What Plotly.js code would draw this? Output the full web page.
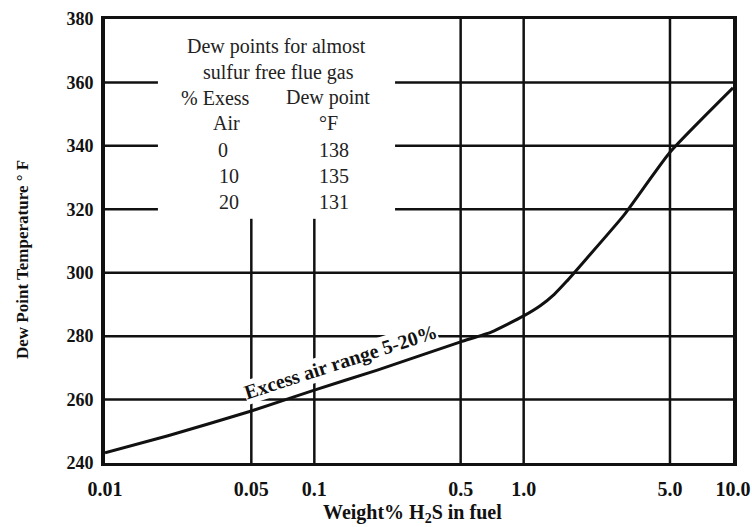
<!DOCTYPE html>
<html>
<head>
<meta charset="utf-8">
<script src="https://cdn.plot.ly/plotly-3.0.1.min.js"></script>
<style>html,body{margin:0;padding:0;background:#fff;}#chart{width:752px;height:527px;}</style>
</head>
<body>
<div id="chart"></div>
<script>
// Curve data: Weight% H2S in fuel vs dew point temperature (°F)
const h2sPct = [0.01, 0.02, 0.05, 0.1, 0.2, 0.5, 0.7, 1.0, 1.2, 1.4, 1.6, 2, 3, 5, 10];
const dewPointF = [243.2, 248.6, 256.4, 263, 269.3, 278.2, 281.3, 286.4, 289.6, 293.2, 297.2, 304.5, 318, 338, 358.3];

// Axis ticks
const xTickVals = [0.01, 0.05, 0.1, 0.5, 1, 5, 10];
const xTickText = ['0.01', '0.05', '0.1', '0.5', '1.0', '5.0', '10.0'];
const yTickVals = [240, 260, 280, 300, 320, 340, 360, 380];

// Grid lines
const yGridFull = [260, 280, 300];
const yGridSplit = [320, 340, 360];
const xGridFull = [0.5, 1, 5];
const xGridShort = [0.05, 0.1];

// Inset table
const insetTitle = ['Dew points for almost', 'sulfur free flue gas'];
const insetHeads = [['% Exess', 'Air'], ['Dew point', '°F']];
const excessAir = ['0', '10', '20'];
const insetDew = ['138', '135', '131'];

const L = 105, R = 733, T = 19, B = 463, W = 752, H = 527;
const px = v => (v - L) / (R - L);   // pixel x -> paper
const py = v => (B - v) / (B - T);   // pixel y -> paper

const serif = 'Liberation Serif, Times New Roman, serif';
const ink = '#111';

const shapes = [];
const gw = 2.5;
yGridFull.forEach(y => shapes.push({type:'line', xref:'x', yref:'y', x0:0.01, x1:10, y0:y, y1:y, line:{color:ink, width:gw}}));
yGridSplit.forEach(y => {
  shapes.push({type:'line', xref:'x', yref:'y', x0:0.01, x1:0.0179, y0:y, y1:y, line:{color:ink, width:gw}});
  shapes.push({type:'line', xref:'x', yref:'y', x0:0.243, x1:10, y0:y, y1:y, line:{color:ink, width:gw}});
});
xGridFull.forEach(x => shapes.push({type:'line', xref:'x', yref:'y', x0:x, x1:x, y0:240, y1:380, line:{color:ink, width:gw}}));
xGridShort.forEach(x => shapes.push({type:'line', xref:'x', yref:'y', x0:x, x1:x, y0:240, y1:317, line:{color:ink, width:gw}}));
shapes.forEach(s => s.layer = 'below');

const annotations = [];
const tfont = {family: serif, size: 20, color: '#222', weight: 'normal'};
const add = (x, y, text) => annotations.push({xref:'paper', yref:'paper', x:px(x), y:py(y), text:text, showarrow:false, font:tfont, xanchor:'center', yanchor:'middle'});
add(276, 46, insetTitle[0]);
add(278, 72, insetTitle[1]);
add(215, 98, insetHeads[0][0]);
add(226, 123, insetHeads[0][1]);
add(328, 98, insetHeads[1][0]);
add(328, 123, insetHeads[1][1]);
const rowY = [150, 176, 202];
excessAir.forEach((t, i) => {
  add(i === 0 ? 223 : 229, rowY[i], t);
  add(334, rowY[i], insetDew[i]);
});
// curve label
annotations.push({xref:'paper', yref:'paper', x:px(340), y:py(362), text:'<b>Excess air range 5-20%</b>', showarrow:false,
  textangle:-18, font:{family: serif, size: 20, color: ink}, bgcolor:'#fff', borderpad:0, xanchor:'center', yanchor:'middle'});
// y axis title
annotations.push({xref:'paper', yref:'paper', x:px(22), y:py(260), text:'<b>Dew Point Temperature ° F</b>', showarrow:false,
  textangle:-90, font:{family: serif, size: 17, color: ink}, xanchor:'center', yanchor:'middle'});
// x axis title
annotations.push({xref:'paper', yref:'paper', x:px(412), y:py(513), text:'<b>Weight% H<sub>2</sub>S in fuel</b>', showarrow:false,
  font:{family: serif, size: 20, color: ink}, xanchor:'center', yanchor:'middle'});

const trace = {
  x: h2sPct, y: dewPointF, type: 'scatter', mode: 'lines',
  line: {color: ink, width: 3, shape: 'spline', smoothing: 0.5},
  hoverinfo: 'skip'
};

const layout = {
  width: W, height: H,
  margin: {l: L, r: W - R, t: T, b: H - B, pad: 0},
  paper_bgcolor: '#fff', plot_bgcolor: '#fff',
  showlegend: false,
  xaxis: {
    type: 'log', range: [-2, 1], tickvals: xTickVals, ticktext: xTickText,
    showgrid: false, zeroline: false, showline: true, mirror: true, linecolor: ink, linewidth: 3,
    ticks: '', ticklabelstandoff: 6,
    tickfont: {family: serif, size: 20, color: ink, weight: 'bold'}
  },
  yaxis: {
    range: [240, 380], tickvals: yTickVals,
    showgrid: false, zeroline: false, showline: true, mirror: true, linecolor: ink, linewidth: 4,
    ticks: '', ticklabelstandoff: 4,
    tickfont: {family: serif, size: 18, color: ink, weight: 'bold'}
  },
  shapes: shapes,
  annotations: annotations
};

Plotly.newPlot('chart', [trace], layout, {displayModeBar: false, staticPlot: true});
</script>
</body>
</html>
